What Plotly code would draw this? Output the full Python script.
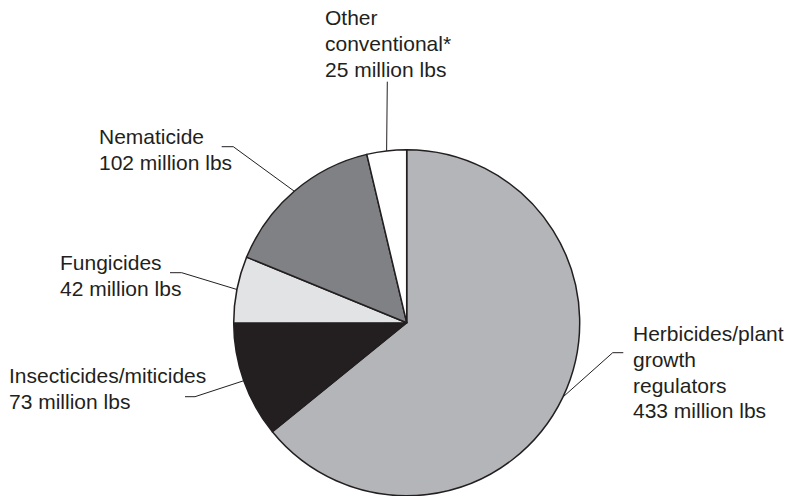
import math
import plotly.graph_objects as go

W, H = 785, 496

# ---- data ----
categories = ["Herbicides/plant growth regulators", "Insecticides/miticides",
              "Fungicides", "Nematicide", "Other conventional*"]
label_lines = [["Herbicides/plant", "growth", "regulators"],
               ["Insecticides/miticides"],
               ["Fungicides"],
               ["Nematicide"],
               ["Other", "conventional*"]]
values = [433, 73, 42, 102, 25]  # million lbs
colors = ["#b4b5b8", "#231f20", "#e2e3e5", "#808184", "#ffffff"]

# ---- layout (pixel positions) ----
CX, CY, R = 406.7, 322.7, 173.0
# text block left x, first baseline y
text_pos = [(630.7, 340.7), (7.3, 382.7), (58.3, 270.0), (96.7, 144.0), (323.3, 25.0)]
LINE_H = 25.7
# leader elbow and end
elbow = [(612.7, 352.7), (195.0, 396.7), (181.7, 272.7), (233.3, 146.7), (387.3, 81.7)]
lend = [(623.3, 352.7), (185.0, 396.7), (170.0, 272.7), (221.7, 146.7), (387.3, 81.7)]

FS = 21
FONT = "Liberation Sans, Arial, Helvetica, sans-serif"
TXT = "#231f20"

def px(x):
    return x / W

def py(y):
    return 1 - y / H

fig = go.Figure()
fig.add_trace(go.Pie(
    labels=categories, values=values, sort=False, direction="clockwise", rotation=0,
    marker=dict(colors=colors, line=dict(color="#231f20", width=1.5)),
    textinfo="none", hoverinfo="label+value", showlegend=False,
    domain=dict(x=[px(CX - R), px(CX + R)], y=[py(CY + R), py(CY - R)]),
))

total = sum(values)
cum = 0
shapes = []
annotations = []
for i, v in enumerate(values):
    mid = (cum + v / 2) / total * 2 * math.pi
    cum += v
    sx = CX + R * math.sin(mid)
    sy = CY - R * math.cos(mid)
    ex, ey = elbow[i]
    tx, ty = lend[i]
    path = f"M {px(sx)} {py(sy)} L {px(ex)} {py(ey)} L {px(tx)} {py(ty)}"
    shapes.append(dict(type="path", path=path, xref="paper", yref="paper",
                       line=dict(color=TXT, width=1)))
    lines = label_lines[i] + [f"{v} million lbs"]
    lx, lb = text_pos[i]
    for k, line in enumerate(lines):
        base = lb + k * LINE_H
        annotations.append(dict(
            text=line, x=px(lx), y=py(base - 0.93 * FS - 1),
            xref="paper", yref="paper", xanchor="left", yanchor="top",
            align="left", showarrow=False, font=dict(size=FS, color=TXT, family=FONT),
        ))

fig.update_layout(
    width=W, height=H, margin=dict(l=0, r=0, t=0, b=0),
    paper_bgcolor="white", plot_bgcolor="white",
    shapes=shapes, annotations=annotations,
)
fig.write_html("out.html")
